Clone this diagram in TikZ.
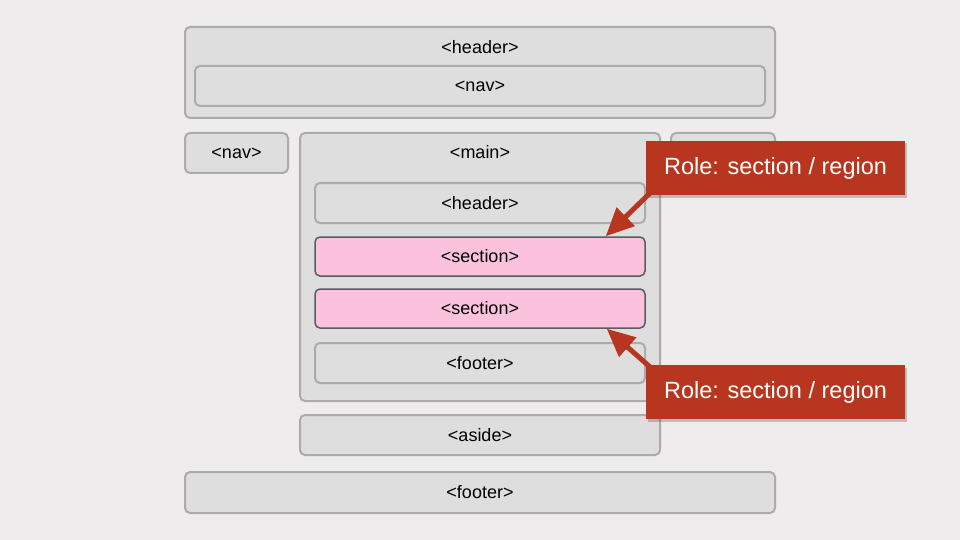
\documentclass[tikz,border=0pt]{standalone}
\usepackage{fontspec}
\setmainfont{Liberation Sans}
\usetikzlibrary{arrows.meta,shadows}
\definecolor{pagebg}{HTML}{EEECEC}
\definecolor{boxfill}{HTML}{DEDEDE}
\definecolor{boxline}{HTML}{ABABAB}
\definecolor{secfill}{HTML}{FCC2DD}
\definecolor{secline}{HTML}{585C63}
\definecolor{rolered}{HTML}{B8361F}
\begin{document}
\begin{tikzpicture}[x=1pt,y=-1pt,
  box/.style={draw=boxline,fill=boxfill,line width=2pt,rounded corners=5pt,inner sep=0pt,font=\fontsize{18}{20}\selectfont},
  secbox/.style={box,draw=secline,fill=secfill,line width=1.5pt},
  tag/.style={anchor=center,font=\fontsize{18}{20}\selectfont},
  role/.style={fill=rolered,text=white,minimum width=259pt,minimum height=54pt,inner sep=0pt,font=\fontsize{23.5}{26}\selectfont,drop shadow={fill=black!70,opacity=0.3,shadow xshift=2pt,shadow yshift=-2.5pt}},
  pointer/.style={draw=rolered,line width=5pt,-{Triangle[length=28pt,width=25pt]}}]
\useasboundingbox[fill=pagebg] (0,0) rectangle (960,540);
\node[box,minimum width=590,minimum height=91,label={[tag,yshift=-21pt]north:{<header>}}] (pagehead) at (480,72.5) {};
\node[box,minimum width=570,minimum height=40] (topnav) at (480,86) {<nav>};
\node[box,minimum width=103,minimum height=40] (sidenav) at (236.5,153) {<nav>};
\node[box,minimum width=104,minimum height=40] (sidebox) at (723,153) {};
\node[box,minimum width=360,minimum height=268,label={[tag,yshift=-20pt]north:{<main>}}] (main) at (480,267) {};
\node[box,minimum width=330,minimum height=40] (mainhead) at (480,203) {<header>};
\node[secbox,minimum width=330,minimum height=39] (sec1) at (480,256.5) {<section>};
\node[secbox,minimum width=330,minimum height=39] (sec2) at (480,308.5) {<section>};
\node[box,minimum width=330,minimum height=40] (mainfoot) at (480,363) {<footer>};
\node[box,minimum width=360,minimum height=40] (aside) at (480,435) {<aside>};
\node[box,minimum width=590,minimum height=41] (pagefoot) at (480,492.5) {<footer>};
\coordinate (tip1) at ([xshift=-40pt]sec1.north east);
\coordinate (tip2) at ([xshift=-39pt]sec2.south east);
\node[role] (role1) at (775.5,168) {Role: section / region};
\node[role] (role2) at (775.5,392) {Role: section / region};
\draw[pointer] ([xshift=4pt,yshift=2pt]role1.south west) -- (tip1);
\draw[pointer] ([xshift=4pt,yshift=-2pt]role2.north west) -- (tip2);
\end{tikzpicture}
\end{document}
